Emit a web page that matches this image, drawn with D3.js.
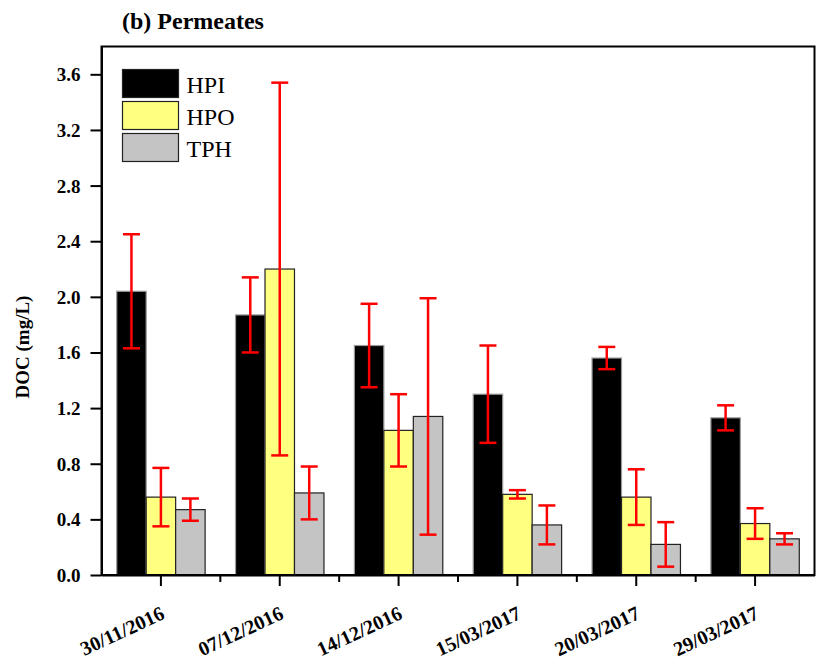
<!DOCTYPE html>
<html>
<head>
<meta charset="utf-8">
<script src="https://cdn.jsdelivr.net/npm/d3@7"></script>
<style>
  html, body { margin: 0; padding: 0; background: #fff; }
  svg { display: block; }
  text { font-family: "Liberation Serif", "Times New Roman", serif; }
</style>
</head>
<body>
<svg id="chart" width="817" height="666"></svg>
<script>
// Sampling dates
const dates = ["30/11/2016", "07/12/2016", "14/12/2016", "15/03/2017", "20/03/2017", "29/03/2017"];
// DOC fractions (mg/L) and their standard deviations
const series = ["HPI", "HPO", "TPH"];
const hpi = [2.04, 1.87, 1.65, 1.30, 1.56, 1.13];
const hpiErr = [0.41, 0.27, 0.30, 0.35, 0.08, 0.09];
const hpo = [0.56, 2.20, 1.04, 0.58, 0.56, 0.37];
const hpoErr = [0.21, 1.34, 0.26, 0.03, 0.20, 0.11];
const tph = [0.47, 0.59, 1.14, 0.36, 0.22, 0.26];
const tphErr = [0.08, 0.19, 0.85, 0.14, 0.16, 0.04];
const yTicks = [0.0, 0.4, 0.8, 1.2, 1.6, 2.0, 2.4, 2.8, 3.2, 3.6];

const colors = { HPI: "#000000", HPO: "#ffff80", TPH: "#c4c4c4" };
const values = { HPI: hpi, HPO: hpo, TPH: tph };
const errors = { HPI: hpiErr, HPO: hpoErr, TPH: tphErr };

const rows = [];
dates.forEach((d, i) => series.forEach(s => rows.push({ date: d, s, v: values[s][i], e: errors[s][i] })));

const L = 101.5, R = 814.5, T = 46.5, B = 575;
const svg = d3.select("#chart");

const x = d3.scaleBand().domain(dates).range([L, R]).padding(0);
const bw = x.bandwidth();
const x1 = d3.scaleBand().domain(series).range([bw * 0.128, bw * 0.872]).padding(0);
const y = d3.scaleLinear().domain([0, 3.8]).range([B, T]);

// Title
svg.append("text").attr("x", 122).attr("y", 29)
  .attr("font-size", 24).attr("font-weight", "bold").text("(b) Permeates");

// Bars
svg.append("g").selectAll("rect").data(rows).join("rect")
  .attr("x", d => x(d.date) + x1(d.s))
  .attr("y", d => y(d.v))
  .attr("width", x1.bandwidth())
  .attr("height", d => y(0) - y(d.v))
  .attr("fill", d => colors[d.s])
  .attr("stroke", d => d.s === "HPI" ? "#9a9a9a" : "#222")
  .attr("stroke-width", 1.2);

// Error bars
const eg = svg.append("g").attr("stroke", "#ff0000").attr("stroke-width", 2.5).attr("fill", "none");
rows.forEach(d => {
  const cx = x(d.date) + x1(d.s) + x1.bandwidth() / 2;
  const y0 = y(d.v - d.e), y1v = y(d.v + d.e), cw = 8.5;
  eg.append("line").attr("x1", cx).attr("x2", cx).attr("y1", y0).attr("y2", y1v);
  eg.append("line").attr("x1", cx - cw).attr("x2", cx + cw).attr("y1", y0).attr("y2", y0);
  eg.append("line").attr("x1", cx - cw).attr("x2", cx + cw).attr("y1", y1v).attr("y2", y1v);
});

// Frame
svg.append("rect").attr("x", L).attr("y", T).attr("width", R - L).attr("height", B - T)
  .attr("fill", "none").attr("stroke", "#000").attr("stroke-width", 2);

// Y axis
const yAxis = svg.append("g").attr("transform", `translate(${L},0)`)
  .call(d3.axisLeft(y).tickValues(yTicks).tickFormat(d3.format(".1f")).tickSize(11).tickSizeOuter(0));
yAxis.select(".domain").attr("stroke-width", 2);
yAxis.selectAll(".tick line").attr("stroke-width", 2);
yAxis.selectAll(".tick text").attr("font-size", 19).attr("font-weight", "bold")
  .attr("font-family", "Liberation Serif, serif").attr("x", -21).attr("dy", "0.34em");

// X axis: major ticks at dates, minor ticks between groups
const xAxis = svg.append("g").attr("transform", `translate(0,${B})`)
  .call(d3.axisBottom(x).tickSize(11).tickSizeOuter(0));
xAxis.select(".domain").attr("stroke-width", 2);
xAxis.selectAll(".tick line").attr("stroke-width", 2);
xAxis.selectAll(".tick text")
  .attr("font-size", 20).attr("font-weight", "bold").attr("font-family", "Liberation Serif, serif")
  .attr("text-anchor", "end").attr("dy", 0).attr("y", 0)
  .attr("transform", "translate(5,43) rotate(-25)");
svg.append("g").selectAll("line").data(dates.slice(1)).join("line")
  .attr("x1", d => x(d)).attr("x2", d => x(d))
  .attr("y1", B).attr("y2", B + 7)
  .attr("stroke", "#000").attr("stroke-width", 2);

// Y axis title
svg.append("text").attr("transform", "translate(29,347) rotate(-90)")
  .attr("text-anchor", "middle").attr("font-size", 19).attr("font-weight", "bold")
  .text("DOC (mg/L)");

// Legend
const lg = svg.append("g").attr("transform", "translate(122.5,69.5)");
series.forEach((s, i) => {
  lg.append("rect").attr("x", 0).attr("y", i * 32).attr("width", 56).attr("height", 28)
    .attr("fill", colors[s]).attr("stroke", "#222").attr("stroke-width", 1.2);
  lg.append("text").attr("x", 64).attr("y", i * 32 + 23).attr("font-size", 24).text(s);
});
</script>
</body>
</html>
